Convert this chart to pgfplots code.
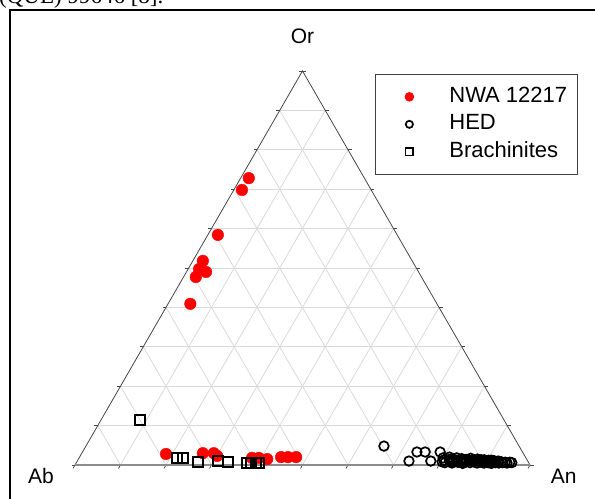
\documentclass[border=0pt]{standalone}
\usepackage{pgfplots}
\pgfplotsset{compat=1.18}
\usepackage{pgfplotstable}
\usepackage{fontspec}
\setmainfont{Liberation Sans}
\newfontfamily\capfont{Liberation Serif}

\definecolor{gridc}{RGB}{218,218,218}
\definecolor{edgec}{RGB}{70,70,70}
\definecolor{basec}{RGB}{140,140,140}

% Compositions in percent (An, Or); Ab = 100 - An - Or
\pgfplotstableread{
An Or
1.8 72.8
1.8 69.8
2.2 58.4
2.2 51.8
2.4 49.7
4.3 49.0
2.7 47.7
4.9 40.9
18.6 2.8
26.6 3.0
29.0 3.0
30.1 2.3
38.0 1.8
39.5 1.8
41.5 1.5
44.3 2.0
45.8 2.0
47.6 2.0
}\nwa

\pgfplotstableread{
An Or
65.5 4.8
72.9 1.0
73.5 3.3
75.3 3.3
77.7 1.0
78.6 3.3
80.0 1.8
80.3 0.8
80.5 1.2
81.0 0.6
81.3 2.0
81.6 1.4
81.8 1.0
82.2 1.5
82.4 0.8
82.6 0.5
83.0 1.8
83.2 1.2
83.4 1.1
83.8 0.7
84.0 1.4
84.2 1.6
84.6 1.0
84.8 0.6
85.0 0.4
85.3 1.4
85.5 1.1
85.7 0.9
86.1 1.7
86.3 1.1
86.5 0.6
86.9 1.2
87.1 0.9
87.3 0.8
87.7 1.5
87.9 1.0
88.1 0.5
88.3 1.3
88.5 1.1
88.7 1.3
88.9 0.7
89.1 1.0
89.3 1.3
89.5 0.9
89.7 0.5
90.1 1.0
90.3 1.2
90.5 0.6
90.7 0.9
90.9 1.2
91.1 0.8
91.3 0.4
91.5 1.1
91.7 0.9
92.1 0.6
92.5 1.0
92.9 0.5
93.3 0.8
93.7 0.6
94.2 0.7
94.7 0.5
95.2 0.7
95.7 0.6
}\hed

\pgfplotstableread{
An Or
8.6 11.4
21.5 1.8
22.8 1.8
26.6 0.8
30.9 1.0
33.2 0.8
37.6 0.5
38.4 0.5
39.5 0.5
40.2 0.5
}\brach

\begin{document}
\begin{tikzpicture}
\useasboundingbox (0bp,0bp) rectangle (595bp,499bp);
\clip (0bp,0bp) rectangle (595bp,499bp);
\begin{axis}[
  at={(0bp,0bp)}, anchor=south west,
  scale only axis,
  x=4.55bp, y=4.55bp,
  xmin=-16.4835, xmax=114.2857,
  ymin=-7.4725, ymax=102.1978,
  hide axis, clip=false,
  legend cell align=left,
  legend image code/.code={%
    \path[draw=none,fill=none] (-26bp,0bp) -- (10bp,0bp);
    \draw[mark repeat=2,mark phase=2,#1,every mark/.append style={scale=0.75}]
      plot[only marks] coordinates {(-10bp,0bp) (0bp,0bp) (10bp,0bp)};},
  legend style={at={(axis cs:65.93,85.95)}, anchor=north west,
    draw=black!75, line width=0.8bp, fill=white,
    inner xsep=8bp, inner ysep=10bp,
    font=\fontsize{22bp}{26bp}\selectfont,
    nodes={inner sep=2bp, text height=16bp, text depth=5bp},
    row sep=2.5bp,
    /tikz/every odd column/.append style={column sep=28bp}},
]
% frame and cut-off caption
\draw[line width=2bp, black] (axis cs:-14.29,-9) -- (axis cs:-14.29,100) -- (axis cs:120,100);
\node[anchor=base west, inner sep=0pt, font=\capfont\fontsize{23bp}{27bp}\selectfont]
  at (axis cs:-16.7,101.4) {(QUE) 99646 [8].};
% grid
\pgfplotsinvokeforeach{10,20,30,40,50,60,70,80,90}{%
  \draw[gridc, line width=0.8bp] (axis cs:{#1/2},{#1*0.8660254}) -- (axis cs:{100-#1/2},{#1*0.8660254});
  \draw[gridc, line width=0.8bp] (axis cs:#1,0) -- (axis cs:{50+#1/2},{(100-#1)*0.8660254});
  \draw[gridc, line width=0.8bp] (axis cs:{100-#1},0) -- (axis cs:{(100-#1)/2},{(100-#1)*0.8660254});
}
% ticks
\pgfplotsinvokeforeach{0,10,20,30,40,50,60,70,80,90,100}{%
  \draw[edgec, line width=0.7bp] (axis cs:{#1/2},{#1*0.8660254}) -- ++(-3.5bp,0bp);
  \draw[edgec, line width=0.7bp] (axis cs:{100-#1/2},{#1*0.8660254}) -- ++(3.5bp,0bp);
  \draw[edgec, line width=0.7bp] (axis cs:#1,0) -- ++(-2bp,-3.5bp);
}
% triangle edges
\draw[edgec, line width=0.8bp] (axis cs:0,0) -- (axis cs:50,86.60254) -- (axis cs:100,0);
\draw[basec, line width=1.6bp] (axis cs:0,0) -- (axis cs:100,0);
% corner labels
\node[font=\fontsize{21bp}{25bp}\selectfont] at (axis cs:50,94.3) {Or};
\node[font=\fontsize{21bp}{25bp}\selectfont] at (axis cs:-7.47,-2.42) {Ab};
\node[font=\fontsize{21bp}{25bp}\selectfont] at (axis cs:107.4,-2.42) {An};

\addplot[only marks, mark=*, color=red, mark options={fill=red, draw=red}, mark size=5.8bp]
  table[x expr=\thisrow{An}+0.5*\thisrow{Or}, y expr=0.8660254*\thisrow{Or}] {\nwa};
\addlegendentry{NWA 12217}
\addplot[only marks, mark=o, color=black, line width=1.7bp, mark size=4.8bp]
  table[x expr=\thisrow{An}+0.5*\thisrow{Or}, y expr=0.8660254*\thisrow{Or}] {\hed};
\addlegendentry{HED}
\addplot[only marks, mark=square, color=black, line width=1.5bp, mark size=5.0bp]
  table[x expr=\thisrow{An}+0.5*\thisrow{Or}, y expr=0.8660254*\thisrow{Or}] {\brach};
\addlegendentry{Brachinites}
\end{axis}
\end{tikzpicture}
\end{document}
